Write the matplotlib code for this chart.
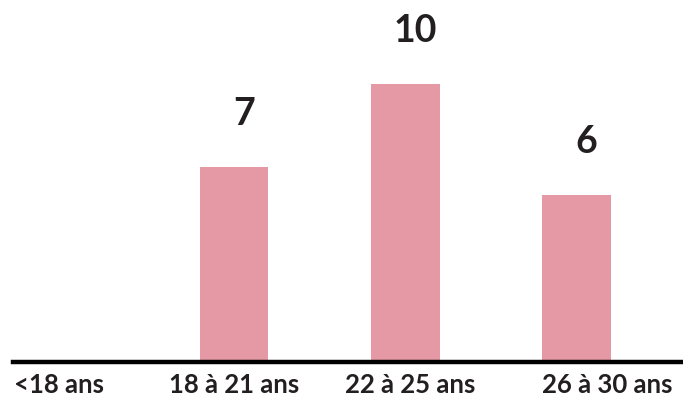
import numpy as np
import matplotlib.pyplot as plt

categories = ["<18 ans", "18 à 21 ans", "22 à 25 ans", "26 à 30 ans"]
counts = [0, 7, 10, 6]

BAR = "#E599A4"
INK = "#231F20"

plt.rcParams['font.family'] = ['Lato', 'DejaVu Sans']

fig = plt.figure(figsize=(6.83, 4.0), dpi=100)
ax = fig.add_axes([0.019, 0.095, 0.981, 0.905])

x = np.arange(len(categories))
bars = ax.bar(x, counts, width=0.4, color=BAR, zorder=1)

# value labels above bars (skip empty category)
for xi, v in zip(x, counts):
    if v > 0:
        ax.annotate(str(v), (xi, v), xytext=(7, 38), textcoords="offset points",
                    ha="center", va="center", fontsize=27, fontweight="bold", color=INK)

ax.set_xlim(-0.29, 3.62)
ax.set_ylim(0, 13)

for s in ["top", "right", "left"]:
    ax.spines[s].set_visible(False)
ax.spines["bottom"].set_linewidth(3.2)
ax.spines["bottom"].set_color("black")
ax.spines["bottom"].set_zorder(3)
ax.set_yticks([])
ax.set_xticks([])

# category labels, nudged like the original layout
nudges = [-4, 0, 5, 30]
for xi, lab, dx in zip(x, categories, nudges):
    ax.annotate(lab, (xi, 0), xytext=(dx * 0.72, -8), textcoords="offset points",
                ha="center", va="top", fontsize=18.5, fontweight="bold", color=INK,
                annotation_clip=False)

fig.savefig("out.png", dpi=100)
